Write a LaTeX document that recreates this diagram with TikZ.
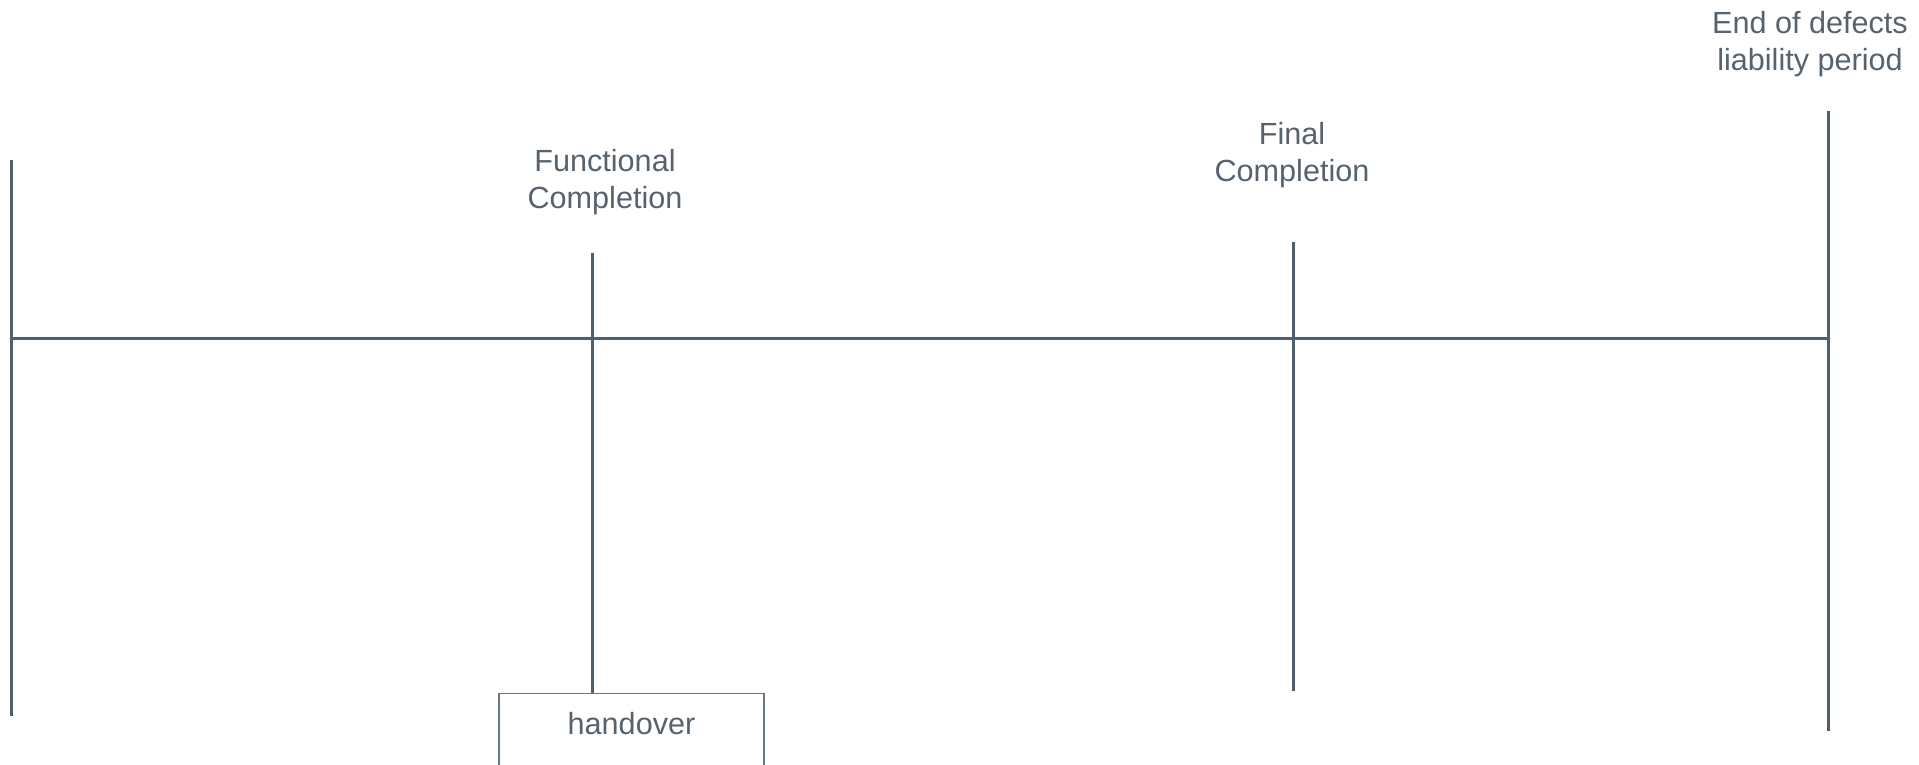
\documentclass[tikz,border=0pt]{standalone}
\usepackage{fontspec}
\setmainfont{Liberation Sans}
\definecolor{slate}{HTML}{4F5F6E}
\definecolor{labelgray}{HTML}{56636F}
\begin{document}
\begin{tikzpicture}[x=0.5pt,y=-0.5pt,
    tick/.style={draw=slate, line width=1.5pt},
    milestone/.style={text=labelgray, font=\fontsize{15.3}{18.5}\selectfont,
      align=center, anchor=base, inner sep=0pt},
    stagebox/.style={draw=slate!85, line width=0.7pt, text=labelgray,
      font=\fontsize{15.3}{18.5}\selectfont, anchor=north, inner ysep=0pt,
      minimum width=132.5pt, text height=20.5pt, text depth=20pt}]
    \useasboundingbox (0,0) rectangle (1919,765);

    % time axis
    \coordinate (start top) at (11,160);
    \coordinate (start bottom) at (11,716);
    \coordinate (start axis) at (11,338);
    \coordinate (end top) at (1828,111);
    \coordinate (end bottom) at (1828,731);
    \coordinate (end axis) at (1828,338);
    \coordinate (functional top) at (592,253);
    \coordinate (final top) at (1293,242);
    \coordinate (final bottom) at (1293,691);

    \draw[tick] (start top) -- (start bottom);
    \draw[tick] (end top) -- (end bottom);
    \draw[tick] (start axis) -- (end axis);

    % milestones
    \node[stagebox] (handover) at (631.5,693) {handover};
    \draw[tick] (functional top) -- (handover.north -| functional top);
    \draw[tick] (final top) -- (final bottom);

    \node[milestone] (functional) at (605,208) {Functional\\Completion};
    \node[milestone] (final) at (1292,182) {Final\\Completion};
    \node[milestone] (end) at (1810,71) {End of defects\\liability period};

\end{tikzpicture}
\end{document}
